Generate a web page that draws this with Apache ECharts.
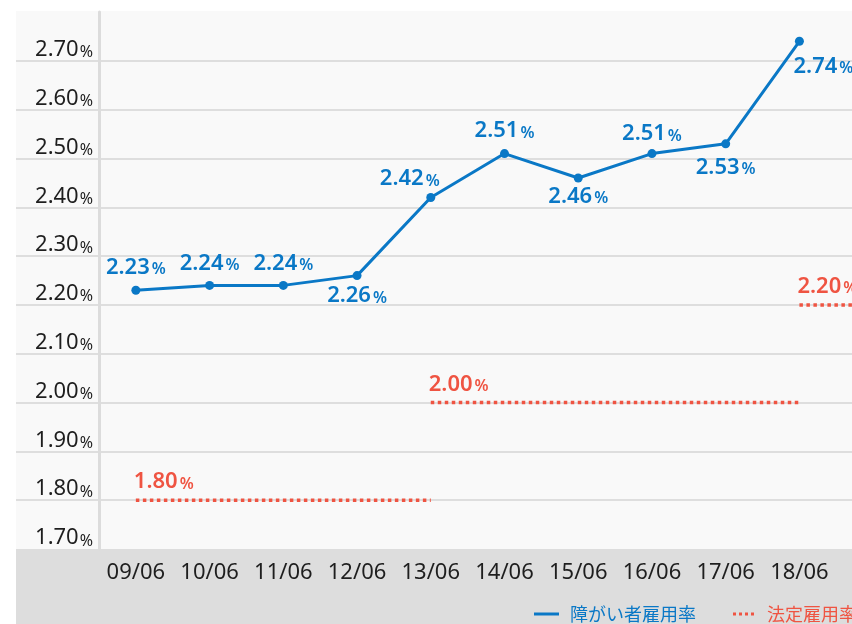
<!DOCTYPE html>
<html>
<head>
<meta charset="utf-8">
<script src="https://cdn.jsdelivr.net/npm/echarts@6/dist/echarts.min.js"></script>
<style>
  html, body { margin: 0; padding: 0; width: 852px; height: 624px; overflow: hidden; background: #fff; }
  #chart { width: 940px; height: 624px; }
</style>
</head>
<body>
<div id="chart"></div>
<script>
// Survey dates (year/month)
const categories = ['09/06', '10/06', '11/06', '12/06', '13/06', '14/06', '15/06', '16/06', '17/06', '18/06', '19/06'];
// Employment rate of persons with disabilities (%)
const employmentRate = [2.23, 2.24, 2.24, 2.26, 2.42, 2.51, 2.46, 2.51, 2.53, 2.74];
// Statutory employment rate (%) and the period each rate applies to
const legalRate = [1.80, 2.00, 2.20];
const legalFrom = ['09/06', '13/06', '18/06'];
const legalTo = ['13/06', '18/06', '19/06'];
// Y axis range
const yMin = 1.7, yMax = 2.8, yStep = 0.1;

const BLUE = '#0a78c6';
const RED = '#ef5442';
const FONT = '"Noto Sans", sans-serif';
const CJK = '"Noto Sans CJK JP", "Noto Sans", sans-serif';
// four square dots for the dotted-line legend marker
const DOTS_ICON = 'path://M0,0h3.5v3.5h-3.5z M7,0h3.5v3.5h-3.5z M14,0h3.5v3.5h-3.5z M21,0h3.5v3.5h-3.5z';

// label placement for each point of the employment line
const labelPlace = [
  { position: 'top', distance: 7 },
  { position: 'top', distance: 6 },
  { position: 'top', distance: 6 },
  { position: 'bottom', distance: 3 },
  { position: 'top', distance: 3, offset: [-21, 0] },
  { position: 'top', distance: 7 },
  { position: 'bottom', distance: 1 },
  { position: 'top', distance: 4 },
  { position: 'bottom', distance: 6 },
  { position: 'bottom', distance: 8, offset: [24, 0] }
];

const pctRich = (color) => ({
  v: { fontFamily: FONT, fontSize: 22, fontWeight: 600, color: color, lineHeight: 24, verticalAlign: 'bottom' },
  p: { fontFamily: FONT, fontSize: 16, fontWeight: 600, color: color, lineHeight: 20, verticalAlign: 'bottom', padding: [0, 0, 1, 2] }
});

const employmentData = employmentRate.map((v, i) => ({
  value: v,
  label: Object.assign({ show: true }, labelPlace[i])
}));

const legalSeries = legalRate.map((rate, k) => {
  const a = categories.indexOf(legalFrom[k]);
  const b = categories.indexOf(legalTo[k]);
  const data = categories.map((c, i) => {
    if (i < a || i > b) return null;
    return i === a ? { value: rate, label: { show: true } } : rate;
  });
  return {
    name: '法定雇用率',
    type: 'line',
    data: data,
    symbol: 'circle',
    symbolSize: 0,
    showSymbol: true,
    silent: true,
    lineStyle: { color: RED, width: 3.5, type: [3.5, 3.5], cap: 'butt' },
    itemStyle: { color: RED },
    label: {
      show: false,
      position: 'top',
      align: 'left',
      distance: 7,
      offset: [-2, 0],
      formatter: (p) => '{v|' + p.value.toFixed(2) + '}{p|%}',
      rich: pctRich(RED)
    },
    z: 3
  };
});

const chart = echarts.init(document.getElementById('chart'), null, { renderer: 'canvas' });

const gridTop = 12, gridBottom = 75, gridLeft = 99, gridRight = 30;

chart.setOption({
  animation: false,
  backgroundColor: '#ffffff',
  graphic: [
    { type: 'rect', left: 16, top: 11, z: -10, shape: { width: 940, height: 613 }, style: { fill: '#f9f9f9' } },
    { type: 'rect', left: 16, top: 549, z: -9, shape: { width: 940, height: 80 }, style: { fill: '#dddddd' } }
  ],
  grid: [
    { left: gridLeft, right: gridRight, top: gridTop, bottom: gridBottom },
    { left: 16, right: gridRight, top: gridTop, bottom: gridBottom }
  ],
  legend: {
    left: 529,
    top: 600,
    itemWidth: 25,
    itemHeight: 3,
    itemGap: 37,
    selectedMode: false,
    textStyle: { fontFamily: CJK, fontSize: 18, padding: [0, 0, 0, 6] },
    data: [
      { name: '障がい者雇用率', icon: 'rect', textStyle: { color: BLUE } },
      { name: '法定雇用率', icon: DOTS_ICON, itemStyle: { color: RED, borderWidth: 0 }, textStyle: { color: RED } }
    ]
  },
  xAxis: [
    {
      type: 'category',
      data: categories,
      gridIndex: 0,
      boundaryGap: true,
      axisLine: { show: false },
      axisTick: { show: false },
      axisLabel: {
        interval: (i) => i < employmentRate.length,
        margin: 13,
        color: '#1e1e1e',
        fontFamily: FONT,
        fontSize: 22
      }
    },
    { type: 'value', gridIndex: 1, show: false, min: 0, max: 1 }
  ],
  yAxis: [
    {
      type: 'value',
      gridIndex: 0,
      min: yMin,
      max: yMax,
      interval: yStep,
      axisLine: { show: true, lineStyle: { color: '#dcdcdc', width: 3 } },
      axisTick: { show: false },
      splitLine: { show: false },
      axisLabel: {
        showMaxLabel: false,
        margin: 6,
        verticalAlign: 'bottom',
        formatter: (v) => '{v|' + v.toFixed(2) + '}{p|%}',
        rich: {
          v: { fontFamily: FONT, fontSize: 22, color: '#1e1e1e', lineHeight: 26, verticalAlign: 'bottom' },
          p: { fontFamily: FONT, fontSize: 16, color: '#1e1e1e', lineHeight: 22, verticalAlign: 'bottom', padding: [0, 0, 0, 1] }
        }
      }
    },
    {
      type: 'value',
      gridIndex: 1,
      min: yMin,
      max: yMax,
      interval: yStep,
      axisLine: { show: false },
      axisTick: { show: false },
      axisLabel: { show: false },
      splitLine: { show: true, showMinLine: false, showMaxLine: false, lineStyle: { color: '#dedede', width: 2 } }
    }
  ],
  series: [
    {
      name: '障がい者雇用率',
      type: 'line',
      data: employmentData,
      symbol: 'circle',
      symbolSize: 9,
      lineStyle: { color: BLUE, width: 3 },
      itemStyle: { color: BLUE },
      label: {
        show: true,
        formatter: (p) => '{v|' + p.value.toFixed(2) + '}{p|%}',
        rich: pctRich(BLUE)
      },
      z: 4
    }
  ].concat(legalSeries)
});
</script>
</body>
</html>
